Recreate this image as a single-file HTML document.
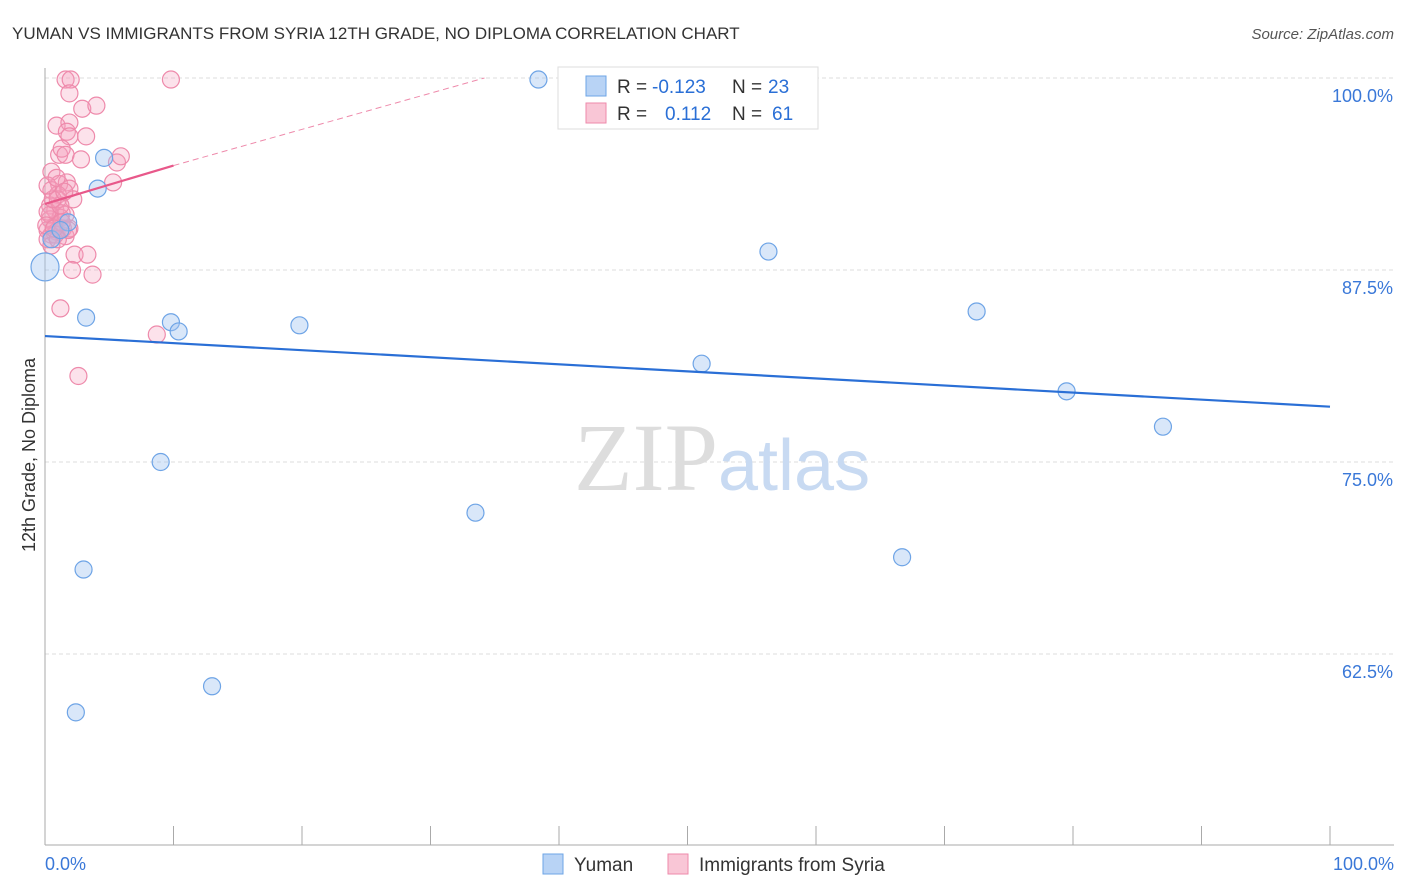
<!DOCTYPE html>
<html><head><meta charset="utf-8"><style>
body{margin:0;background:#fff;font-family:"Liberation Sans",sans-serif}
svg{display:block}
</style></head><body>
<svg id="c" width="1406" height="892" xmlns="http://www.w3.org/2000/svg">
<text x="12" y="39" font-size="17" fill="#333">YUMAN VS IMMIGRANTS FROM SYRIA 12TH GRADE, NO DIPLOMA CORRELATION CHART</text>
<text x="1394" y="39" font-size="15" fill="#555" font-style="italic" text-anchor="end">Source: ZipAtlas.com</text>
<text x="35" y="455" font-size="18" fill="#333" text-anchor="middle" transform="rotate(-90 35 455)">12th Grade, No Diploma</text>
<g id="grid"></g>
<text x="718" y="490" font-size="96" fill="#ddd" text-anchor="end" font-family="Liberation Serif">ZIP</text>
<text x="718" y="490" font-size="72" fill="#c8daf2">atlas</text>
<g id="marks"></g>
<g>
<rect x="558" y="67" width="260" height="62" fill="#fff" stroke="#ddd"/>
<rect x="586" y="76" width="20" height="20" fill="#b8d3f5" stroke="#6ea4e6"/>
<rect x="586" y="103" width="20" height="20" fill="#f9c6d6" stroke="#ee8aab"/>
<text x="617" y="93" font-size="19" fill="#333">R =</text><text x="652" y="93" font-size="19" fill="#2a6fd6">-0.123</text>
<text x="732" y="93" font-size="19" fill="#333">N =</text><text x="768" y="93" font-size="19" fill="#2a6fd6">23</text>
<text x="617" y="120" font-size="19" fill="#333">R =</text><text x="665" y="120" font-size="19" fill="#2a6fd6">0.112</text>
<text x="732" y="120" font-size="19" fill="#333">N =</text><text x="772" y="120" font-size="19" fill="#2a6fd6">61</text>
</g>
<g>
<rect x="543" y="854" width="20" height="20" fill="#b8d3f5" stroke="#6ea4e6"/>
<text x="574" y="871" font-size="19" fill="#333">Yuman</text>
<rect x="668" y="854" width="20" height="20" fill="#f9c6d6" stroke="#ee8aab"/>
<text x="699" y="871" font-size="19" fill="#333">Immigrants from Syria</text>
</g>
</svg>
<script>
const yTicks=[100,87.5,75,62.5];
const yTickLabels=["100.0%","87.5%","75.0%","62.5%"];
const xLabels=["0.0%","100.0%"];
const blueX=[0,4.6,4.1,1.8,0.5,3.2,9.8,10.4,19.8,9.0,3.0,2.4,13.0,33.5,38.4,56.3,51.1,72.5,66.7,79.5,87.0,1.2];
const blueY=[87.7,94.8,92.8,90.6,89.5,84.4,84.1,83.5,83.9,75.0,68.0,58.7,60.4,71.7,99.9,88.7,81.4,84.8,68.8,79.6,77.3,90.1];
const pinkX=[1.6,2.0,9.8,1.9,2.9,4.0,0.9,1.9,1.7,1.9,3.2,1.1,1.3,1.6,2.8,5.6,5.9,5.3,0.5,1.1,1.7,1.9,2.2,0.5,1.0,0.4,0.8,1.3,0.4,0.8,1.2,0.2,0.5,0.9,1.6,1.4,0.2,0.8,1.9,2.3,3.3,2.1,3.7,1.2,8.7,2.6,0.4,1.0,0.2,1.6,1.2,0.6,0.2,0.9,1.5,1.8,0.5,0.1,1.0,1.3,0.7];
const pinkY=[99.9,99.9,99.9,99.0,98.0,98.2,96.9,97.1,96.5,96.2,96.2,95.0,95.4,95.0,94.7,94.5,94.9,93.2,93.9,93.1,93.2,92.8,92.1,92.7,92.4,91.7,91.4,91.2,90.8,90.4,90.9,90.1,89.8,90.0,89.7,90.2,89.5,89.8,90.2,88.5,88.5,87.5,87.2,85.0,83.3,80.6,91.1,92.1,91.3,91.1,91.7,92.1,93.0,93.5,92.6,90.1,89.1,90.4,89.5,90.6,90.2];
const blueTrend=[[0,83.2],[100,78.6]];
const pinkTrend=[[0,91.8],[10,94.3]];
const pinkDash=[[10,94.3],[34.2,100]];
const X=v=>45+v*12.85, Y=v=>78+(100-v)*15.36;
const NS="http://www.w3.org/2000/svg";
function mk(t,a,p){const e=document.createElementNS(NS,t);for(const k in a)e.setAttribute(k,a[k]);p.appendChild(e);return e;}
const g=document.getElementById('grid'),m=document.getElementById('marks');
yTicks.forEach((t,i)=>{
 const l=mk('line',{x1:45,x2:1394,y1:Y(t),y2:Y(t),stroke:'#ddd','stroke-dasharray':'4 3'},g);
 
 
 const tx=mk('text',{x:1393,y:Y(t)+24,'font-size':18,fill:'#3a78d8','text-anchor':'end'},g);tx.textContent=yTickLabels[i];
 
 
});
const ax=mk('line',{x1:45,x2:1394,y1:845,y2:845,stroke:'#aaa'},g);


const ay=mk('line',{x1:45,x2:45,y1:68,y2:845,stroke:'#aaa'},g);


for(let i=0;i<=10;i++){const t=mk('line',{x1:X(i*10),x2:X(i*10),y1:826,y2:845,stroke:'#aaa'},g);
 
 }
[[0,'start',45],[100,'end',1394]].forEach((d,i)=>{const t=mk('text',{x:d[2],y:870,'font-size':18,fill:'#3a78d8','text-anchor':d[1]},g);t.textContent=xLabels[i];
 
 });
pinkX.forEach((x,i)=>{const c=mk('circle',{cx:X(x),cy:Y(pinkY[i]),r:8.5,fill:'rgba(244,160,188,0.3)',stroke:'#ee8aab','stroke-width':1.2},m);
 
 });
blueX.forEach((x,i)=>{const c=mk('circle',{cx:X(x),cy:Y(blueY[i]),r:i==0?14:8.5,fill:'rgba(160,196,240,0.4)',stroke:'#6ea4e6','stroke-width':1.2},m);
 
 });
const bl=mk('line',{x1:X(blueTrend[0][0]),y1:Y(blueTrend[0][1]),x2:X(blueTrend[1][0]),y2:Y(blueTrend[1][1]),stroke:'#2a6fd6','stroke-width':2.2},m);


const pl=mk('line',{x1:X(pinkTrend[0][0]),y1:Y(pinkTrend[0][1]),x2:X(pinkTrend[1][0]),y2:Y(pinkTrend[1][1]),stroke:'#e8588a','stroke-width':2.2},m);


const pd=mk('line',{x1:X(pinkDash[0][0]),y1:Y(pinkDash[0][1]),x2:X(pinkDash[1][0]),y2:Y(pinkDash[1][1]),stroke:'#ee8aab','stroke-width':1,'stroke-dasharray':'6 4'},m);


</script>
</body></html>
